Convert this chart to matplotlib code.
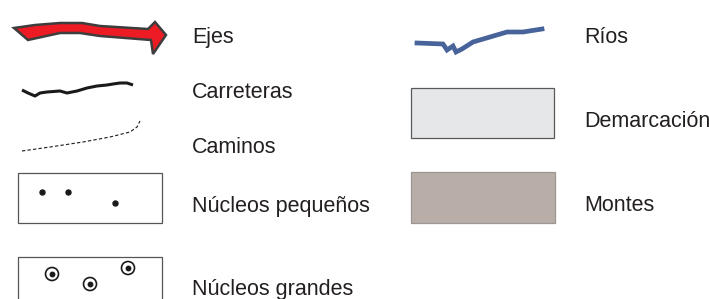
import matplotlib.pyplot as plt
from matplotlib.patches import Polygon, Rectangle, Circle

# legend entries: label, text x, text baseline y (pixels)
labels = ['Ejes', 'Carreteras', 'Caminos', 'Núcleos pequeños', 'Núcleos grandes',
          'Ríos', 'Demarcación', 'Montes']
label_x = [192, 192, 192, 192, 192, 584, 584, 584]
label_y = [43, 98, 153, 212, 295, 43, 127, 211]

# symbol shapes (pixel coordinates, y down)
arrow_pts = [(14, 28), (35, 25), (60, 23), (82, 23), (100, 26), (148, 29), (155, 22),
             (166, 35), (153, 54), (151, 40), (100, 36), (80, 33), (60, 33), (28, 40)]
road_x = [22, 28, 35, 40, 47, 60, 67, 77, 87, 97, 107, 113, 120, 127, 133]
road_y = [90, 93, 96, 93, 92, 91, 93, 91, 88, 86, 85, 84, 83, 83, 85]
path_x = [22, 50, 83, 110, 130, 137, 140]
path_y = [151, 147, 142, 137, 132, 127, 121]
river_x = [417, 443, 447, 453, 456, 462, 473, 490, 507, 523, 542]
river_y = [43, 44, 50, 46, 52, 49, 42, 37, 32, 32, 29]
small_x = [42, 68, 115]
small_y = [192, 192, 203]
big_x = [52, 90, 128]
big_y = [274, 284, 268]

fig = plt.figure(figsize=(7.09, 2.99), dpi=100)
ax = fig.add_axes([0, 0, 1, 1])
ax.set_xlim(0, 709)
ax.set_ylim(299, 0)
ax.axis('off')

ax.add_patch(Polygon(arrow_pts, closed=True, facecolor='#ed1c24', edgecolor='#3d3d3d',
                     linewidth=1.8, joinstyle='miter'))

ax.plot(road_x, road_y, color='#1a1a1a', linewidth=2.2, solid_capstyle='butt')
ax.plot(path_x, path_y, color='#1a1a1a', linewidth=0.8, dashes=(3, 2))
ax.plot(river_x, river_y, color='#47639a', linewidth=3.4, solid_joinstyle='miter')

# small settlements
ax.add_patch(Rectangle((18, 173), 144, 50, facecolor='white', edgecolor='#555555', linewidth=0.9))
ax.plot(small_x, small_y, 'o', color='#1a1a1a', markersize=3.6, linestyle='none')

# large settlements
ax.add_patch(Rectangle((18, 257), 144, 50, facecolor='white', edgecolor='#555555', linewidth=0.9))
for cx, cy in zip(big_x, big_y):
    ax.add_patch(Circle((cx, cy), 6.5, facecolor='white', edgecolor='#1a1a1a', linewidth=1.2))
ax.plot(big_x, big_y, 'o', color='#1a1a1a', markersize=3.2, linestyle='none')

ax.add_patch(Rectangle((411, 88), 143, 50, facecolor='#e6e7e9', edgecolor='#58595b', linewidth=0.9))
ax.add_patch(Rectangle((411, 172), 144, 51, facecolor='#b9ada7', edgecolor='#9a9696', linewidth=0.9))

for t, x, y in zip(labels, label_x, label_y):
    ax.text(x, y, t, fontsize=15.5, family='Liberation Sans', color='#231f20',
            ha='left', va='baseline')

fig.savefig('out.png', dpi=100)
